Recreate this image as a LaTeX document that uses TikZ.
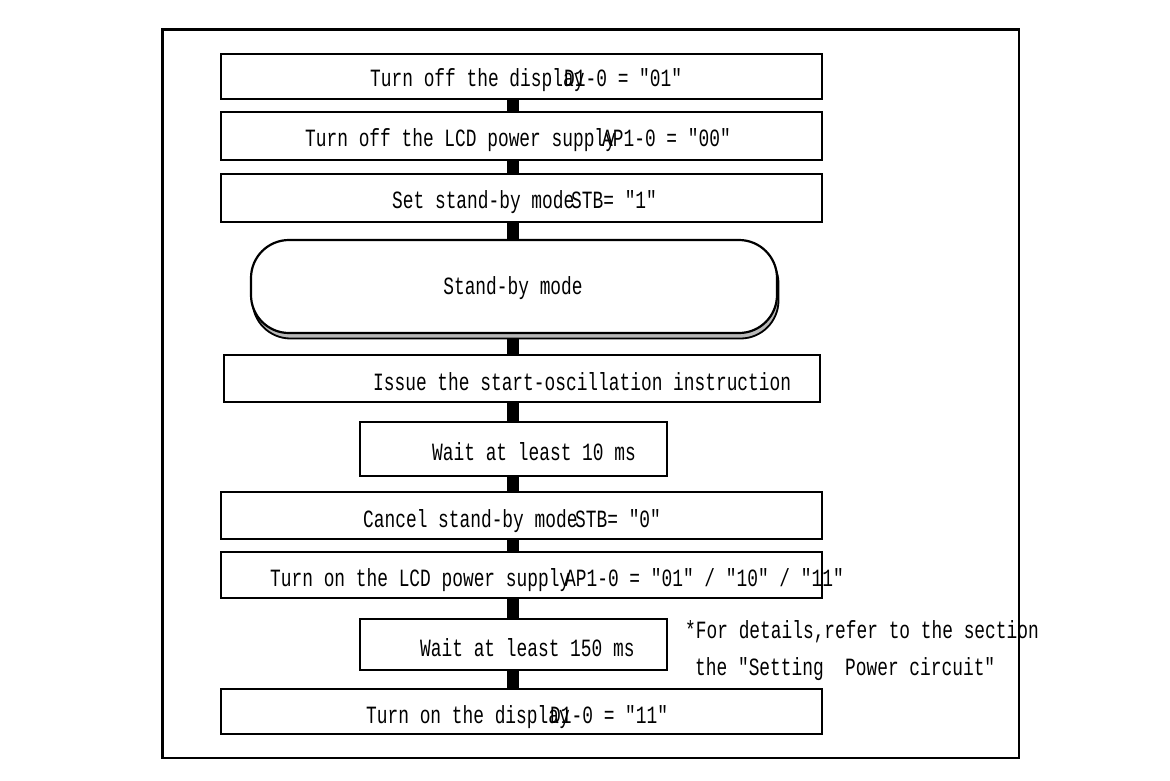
\documentclass[tikz,border=0pt]{standalone}
\usepackage{fontspec}
\newfontfamily\diagfont[FakeStretch=0.72]{Liberation Mono}
\begin{document}
\begin{tikzpicture}[x=1pt,y=-1pt,
  box/.style={draw=black, line width=2.6pt, inner sep=0pt},
  txt/.style={inner sep=0pt, anchor=base west, font=\diagfont\fontsize{24.8}{27}\selectfont},
  ctxt/.style={inner sep=0pt, anchor=base, font=\diagfont\fontsize{24.8}{27}\selectfont},
  conn/.style={line width=12.5pt, draw=black},
  sbbox/.style={draw=black, line width=2.2pt, rounded corners=38pt, minimum width=526pt, minimum height=93pt, inner sep=0pt}]
\useasboundingbox (0,0) rectangle (1170,780);
\fill[white] (0,0) rectangle (1170,780);
% outer frame
\draw[line width=2.2pt] (162.5,29.5) rectangle (1019,758);
\coordinate (cx) at (513,0);
% boxes
\node[box, minimum width=601pt, minimum height=45pt] (b1) at (521.5,76.5) {};
\node[box, minimum width=601pt, minimum height=48pt] (b2) at (521.5,136) {};
\node[box, minimum width=601pt, minimum height=48pt] (b3) at (521.5,198) {};
\node[sbbox, fill=gray!55, xshift=1.5pt, yshift=-5.5pt, line width=1.8pt] (sbs) at (514,286.5) {};
\node[sbbox, fill=white] (sb) at (514,286.5) {};
\node[box, minimum width=596pt, minimum height=47pt] (b4) at (522,378.5) {};
\node[box, minimum width=307pt, minimum height=54pt] (b5) at (513.5,449) {};
\node[box, minimum width=601pt, minimum height=47pt] (b6) at (521.5,515.5) {};
\node[box, minimum width=601pt, minimum height=46pt] (b7) at (521.5,575) {};
\node[box, minimum width=307pt, minimum height=51pt] (b8) at (513.5,644.5) {};
\node[box, minimum width=601pt, minimum height=45pt] (b9) at (521.5,711.5) {};
% connectors
\draw[conn] (b1.south -| cx) -- (b2.north -| cx);
\draw[conn] (b2.south -| cx) -- (b3.north -| cx);
\draw[conn] (b3.south -| cx) -- (sb.north -| cx);
\draw[conn] (sbs.south -| cx) -- (b4.north -| cx);
\draw[conn] (b4.south -| cx) -- (b5.north -| cx);
\draw[conn] (b5.south -| cx) -- (b6.north -| cx);
\draw[conn] (b6.south -| cx) -- (b7.north -| cx);
\draw[conn] (b7.south -| cx) -- (b8.north -| cx);
\draw[conn] (b8.south -| cx) -- (b9.north -| cx);
% texts
\node[txt] (t1a) at (370,86) {Turn off the display};
\node[txt] (t1b) at (564,86) {D1-0 = "01"};
\node[txt] (t2a) at (305,146) {Turn off the LCD power supply};
\node[txt] (t2b) at (602,146) {AP1-0 = "00"};
\node[txt] (t3a) at (392,208) {Set stand-by mode};
\node[txt] (t3b) at (571,208) {STB= "1"};
\node[ctxt] (tsb) at (513,294) {Stand-by mode};
\node[txt] (t4) at (373,390) {Issue the start-oscillation instruction};
\node[txt] (t5) at (432,460) {Wait at least 10 ms};
\node[txt] (t6a) at (363,527) {Cancel stand-by mode};
\node[txt] (t6b) at (575,527) {STB= "0"};
\node[txt] (t7a) at (270,586) {Turn on the LCD power supply};
\node[txt] (t7b) at (565,586) {AP1-0 = "01" / "10" / "11"};
\node[txt] (t8) at (420,656) {Wait at least 150 ms};
\node[txt] (t9a) at (366,723) {Turn on the display};
\node[txt] (t9b) at (550,723) {D1-0 = "11"};
\node[txt] (n1) at (685,638) {*For details,refer to the section};
\node[txt] (n2) at (695,675) {the "Setting\ \ Power circuit"};
\end{tikzpicture}
\end{document}
